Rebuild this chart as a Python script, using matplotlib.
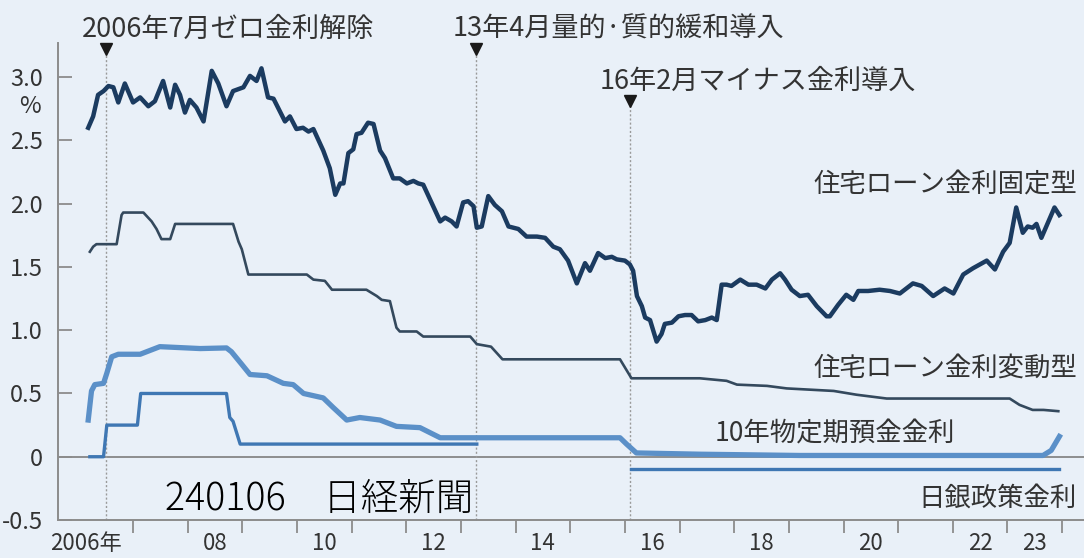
import numpy as np
import matplotlib.pyplot as plt

plt.rcParams['font.family'] = ['Noto Sans CJK JP', 'DejaVu Sans']

# 住宅ローン金利固定型 (decimal year, %)
fixed_t = [2006.18, 2006.27, 2006.36, 2006.46, 2006.55, 2006.64, 2006.73, 2006.85,
           2007.00, 2007.13, 2007.28, 2007.40, 2007.55, 2007.68, 2007.77, 2007.86,
           2007.95, 2008.04, 2008.16, 2008.29, 2008.44, 2008.56, 2008.71, 2008.83,
           2009.02, 2009.14, 2009.26, 2009.35, 2009.47, 2009.57, 2009.78, 2009.87,
           2009.99, 2010.11, 2010.21, 2010.30, 2010.48, 2010.60, 2010.70, 2010.79,
           2010.85, 2010.94, 2011.03, 2011.09, 2011.18, 2011.30, 2011.40, 2011.52,
           2011.61, 2011.76, 2011.88, 2012.01, 2012.13, 2012.22, 2012.31, 2012.62,
           2012.71, 2012.83, 2012.92, 2013.04, 2013.13, 2013.23, 2013.29, 2013.38,
           2013.50, 2013.62, 2013.75, 2013.87, 2014.05, 2014.20, 2014.39, 2014.54,
           2014.69, 2014.81, 2014.96, 2015.12, 2015.27, 2015.36, 2015.51, 2015.64,
           2015.76, 2015.85, 2016.00, 2016.09, 2016.15, 2016.22, 2016.31, 2016.37,
           2016.46, 2016.58, 2016.67, 2016.73, 2016.86, 2016.98, 2017.10, 2017.22,
           2017.34, 2017.47, 2017.59, 2017.68, 2017.77, 2017.86, 2017.95, 2018.11,
           2018.26, 2018.41, 2018.57, 2018.69, 2018.84, 2018.93, 2019.05, 2019.20,
           2019.35, 2019.51, 2019.69, 2019.75, 2019.90, 2020.05, 2020.18, 2020.27,
           2020.45, 2020.66, 2020.85, 2021.03, 2021.27, 2021.43, 2021.64, 2021.85,
           2022.01, 2022.19, 2022.37, 2022.62, 2022.77, 2022.92, 2023.04, 2023.16,
           2023.28, 2023.37, 2023.46, 2023.53, 2023.62, 2023.74, 2023.86, 2023.95]
fixed_v = [2.60, 2.69, 2.86, 2.89, 2.93, 2.92, 2.80, 2.95,
           2.80, 2.84, 2.77, 2.81, 2.97, 2.76, 2.94, 2.86,
           2.72, 2.82, 2.76, 2.65, 3.05, 2.95, 2.77, 2.89,
           2.92, 3.01, 2.97, 3.07, 2.84, 2.83, 2.65, 2.69,
           2.59, 2.60, 2.57, 2.59, 2.42, 2.28, 2.07, 2.16,
           2.16, 2.40, 2.43, 2.55, 2.56, 2.64, 2.63, 2.42,
           2.36, 2.20, 2.20, 2.16, 2.18, 2.16, 2.15, 1.86,
           1.89, 1.86, 1.82, 2.01, 2.02, 1.98, 1.81, 1.82,
           2.06, 1.99, 1.94, 1.82, 1.80, 1.74, 1.74, 1.73,
           1.66, 1.64, 1.55, 1.37, 1.53, 1.47, 1.61, 1.57,
           1.58, 1.56, 1.55, 1.52, 1.47, 1.27, 1.19, 1.10,
           1.08, 0.91, 0.97, 1.05, 1.06, 1.11, 1.12, 1.12,
           1.07, 1.08, 1.10, 1.08, 1.36, 1.36, 1.35, 1.40,
           1.36, 1.36, 1.33, 1.40, 1.45, 1.40, 1.32, 1.27,
           1.28, 1.19, 1.11, 1.11, 1.20, 1.28, 1.24, 1.31,
           1.31, 1.32, 1.31, 1.29, 1.37, 1.35, 1.27, 1.33,
           1.29, 1.44, 1.49, 1.55, 1.48, 1.62, 1.69, 1.97,
           1.77, 1.82, 1.81, 1.84, 1.73, 1.85, 1.97, 1.91]

# 住宅ローン金利変動型
variable_t = [2006.21, 2006.27, 2006.33, 2006.70, 2006.79, 2006.82, 2007.19, 2007.34,
              2007.43, 2007.52, 2007.68, 2007.77, 2008.83, 2008.93, 2008.99, 2009.11,
              2010.18, 2010.30, 2010.51, 2010.64, 2011.27, 2011.46, 2011.55, 2011.70,
              2011.82, 2011.88, 2012.19, 2012.31, 2013.17, 2013.29, 2013.55, 2013.76,
              2015.91, 2016.12, 2017.37, 2017.86, 2018.05, 2018.60, 2018.96, 2019.82,
              2020.24, 2020.79, 2023.04, 2023.22, 2023.46, 2023.66, 2023.93]
variable_v = [1.62, 1.66, 1.68, 1.68, 1.91, 1.93, 1.93, 1.86,
              1.80, 1.72, 1.72, 1.84, 1.84, 1.70, 1.64, 1.44,
              1.44, 1.40, 1.39, 1.32, 1.32, 1.27, 1.24, 1.23,
              1.02, 0.99, 0.99, 0.95, 0.95, 0.89, 0.87, 0.77,
              0.77, 0.62, 0.62, 0.60, 0.57, 0.56, 0.54, 0.52,
              0.49, 0.46, 0.46, 0.41, 0.37, 0.37, 0.36]

# 10年物定期預金金利
deposit_t = [2006.18, 2006.24, 2006.30, 2006.46, 2006.52, 2006.61, 2006.73, 2007.13,
             2007.25, 2007.49, 2008.23, 2008.71, 2008.80, 2008.99, 2009.14, 2009.45,
             2009.75, 2009.93, 2010.12, 2010.48, 2010.66, 2010.91, 2011.15, 2011.52,
             2011.82, 2012.25, 2012.62, 2015.91, 2016.03, 2016.21, 2017.37, 2019.20,
             2023.65, 2023.80, 2023.95]
deposit_v = [0.29, 0.52, 0.57, 0.58, 0.66, 0.79, 0.81, 0.81,
             0.83, 0.87, 0.855, 0.86, 0.83, 0.73, 0.65, 0.64,
             0.58, 0.57, 0.50, 0.465, 0.39, 0.29, 0.31, 0.29,
             0.24, 0.23, 0.15, 0.15, 0.10, 0.03, 0.02, 0.01,
             0.01, 0.05, 0.16]

# 日銀政策金利 (no target between 2013 and 2016)
policy_a_t = [2006.21, 2006.46, 2006.52, 2007.08, 2007.14, 2008.71, 2008.77, 2008.83, 2008.96, 2013.29]
policy_a_v = [0.0, 0.0, 0.25, 0.25, 0.50, 0.50, 0.31, 0.28, 0.10, 0.10]
policy_b_t = [2016.11, 2023.95]
policy_b_v = [-0.10, -0.10]

event_x = [2006.5, 2013.27, 2016.1]
event_text = ['2006年7月ゼロ金利解除', '13年4月量的·質的緩和導入', '16年2月マイナス金利導入']

year_ticks = list(range(2007, 2025))
label_pos = [2006.13, 2008.5, 2010.5, 2012.5, 2014.5, 2016.5, 2018.5, 2020.5, 2022.5, 2023.5]
label_text = ['2006年', '08', '10', '12', '14', '16', '18', '20', '22', '23']
y_ticks = [3.0, 2.5, 2.0, 1.5, 1.0, 0.5, 0, -0.5]
y_labels = ['3.0', '2.5', '2.0', '1.5', '1.0', '0.5', '0', '-0.5']

bg = '#e9f0f8'
txt = '#333333'
axis_gray = '#8c8c8c'

fig = plt.figure(figsize=(10.84, 5.58), dpi=100, facecolor=bg)
ax = fig.add_axes([58 / 1084, 38 / 558, 1026 / 1084, 477 / 558])
ax.set_facecolor(bg)
ax.set_xlim(2005.627, 2024.40)
ax.set_ylim(-0.5, 3.27)

for s in ['top', 'right']:
    ax.spines[s].set_visible(False)
for s in ['left', 'bottom']:
    ax.spines[s].set_color(axis_gray)
    ax.spines[s].set_linewidth(1.4)

ax.axhline(0, color='#7d7d7d', lw=1.2, zorder=1)

# event markers
marker_y = [3.205, 3.205, 2.79]
text_y = [3.38, 3.38, 2.97]
text_x = [2006.07, 2012.85, 2015.54]
for x, my, tx, ty, t in zip(event_x, marker_y, text_x, text_y, event_text):
    ax.plot([x, x], [-0.5, my], color='#9a9a9a', lw=1.0, ls=(0, (1.5, 1.5)), clip_on=False, zorder=1)
    ax.plot(x, my + 0.02, marker='v', color='#1a1a1a', ms=8, clip_on=False, zorder=5)
    ax.text(tx, ty, t, fontsize=19.5, color=txt, va='center', ha='left', clip_on=False)

ax.plot(policy_a_t, policy_a_v, color='#3f77b3', lw=2.4, solid_joinstyle='round', zorder=3)
ax.plot(policy_b_t, policy_b_v, color='#3f77b3', lw=2.4, zorder=3)
ax.plot(deposit_t, deposit_v, color='#5b90c8', lw=3.8, solid_joinstyle='round', zorder=3)
ax.plot(variable_t, variable_v, color='#34495d', lw=1.9, solid_joinstyle='round', zorder=4)
ax.plot(fixed_t, fixed_v, color='#1b3b60', lw=3.2, solid_joinstyle='round', zorder=4)

# series labels
ax.text(2024.27, 2.15, '住宅ローン金利固定型', fontsize=19, color=txt, ha='right', va='center')
ax.text(2024.27, 0.70, '住宅ローン金利変動型', fontsize=19, color=txt, ha='right', va='center')
ax.text(2017.65, 0.18, '10年物定期預金金利', fontsize=19, color=txt, ha='left', va='center')
ax.text(2024.27, -0.33, '日銀政策金利', fontsize=19, color=txt, ha='right', va='center')
ax.text(2005.12, 2.77, '%', fontsize=17, color=txt, ha='center', va='center', clip_on=False)
ax.text(2007.58, -0.335, '240106\u3000日経新聞', fontsize=27, color='black', ha='left',
        va='center', fontweight='light')

ax.set_yticks(y_ticks)
ax.set_yticklabels(y_labels)
ax.tick_params(axis='y', direction='in', length=10, width=1.3, color=axis_gray,
               labelsize=17, labelcolor=txt, pad=11)

ax.set_xticks(year_ticks)
ax.set_xticklabels([])
ax.set_xticks(label_pos, minor=True)
ax.set_xticklabels(label_text, minor=True)
ax.tick_params(axis='x', which='major', direction='out', length=9, width=1.3, color=axis_gray)
ax.tick_params(axis='x', which='minor', length=0, labelsize=16, labelcolor=txt, pad=9)

fig.savefig('out.png', dpi=100, facecolor=bg)
